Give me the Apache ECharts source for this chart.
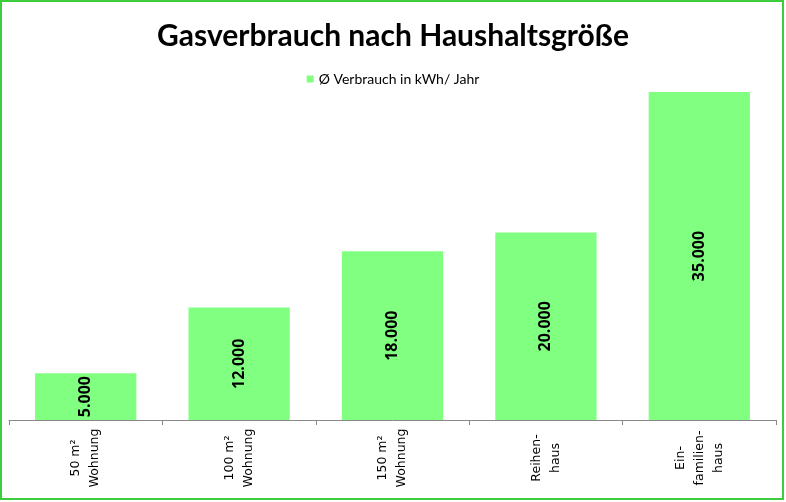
<!DOCTYPE html>
<html>
<head>
<meta charset="utf-8">
<script src="https://cdn.jsdelivr.net/npm/echarts@6/dist/echarts.min.js"></script>
<style>
html,body{margin:0;padding:0;background:#fff;}
#chart{width:786px;height:502px;}
</style>
</head>
<body>
<div id="chart"></div>
<script>
const titleText = 'Gasverbrauch nach Haushaltsgröße';
const seriesName = 'Ø Verbrauch in kWh/ Jahr';
const categories = ['50 m²\nWohnung', '100 m²\nWohnung', '150 m²\nWohnung', 'Reihen-\nhaus', 'Ein-\nfamilien-\nhaus'];
const values = [5000, 12000, 18000, 20000, 35000];

const chart = echarts.init(document.getElementById('chart'), null, {renderer: 'canvas'});
chart.setOption({
  backgroundColor: '#ffffff',
  animation: false,
  title: {
    text: titleText,
    left: 'center',
    top: 16,
    textStyle: {fontFamily: 'Lato', fontWeight: 'bold', fontSize: 30, color: '#000'}
  },
  legend: {
    data: [seriesName],
    left: 'center',
    top: 67,
    icon: 'rect',
    itemWidth: 7,
    itemHeight: 7,
    textStyle: {fontFamily: 'Lato', fontSize: 14, color: '#000'}
  },
  graphic: [{
    type: 'rect',
    shape: {x: 1, y: 1, width: 782, height: 498},
    style: {fill: 'none', stroke: '#3ccc3c', lineWidth: 2},
    silent: true,
    z: 100
  }],
  grid: {left: 9, right: 10, top: 92, bottom: 82, containLabel: false},
  xAxis: {
    type: 'category',
    data: categories,
    axisLine: {lineStyle: {color: '#888888', width: 1}},
    axisTick: {show: true, length: 5, lineStyle: {color: '#888888'}},
    axisLabel: {
      rotate: 90,
      align: 'center',
      verticalAlign: 'middle',
      margin: 38,
      interval: 0,
      fontFamily: 'DejaVu Sans',
      fontSize: 12.5,
      lineHeight: 19,
      color: '#000'
    }
  },
  yAxis: {
    type: 'value',
    min: 0,
    max: 35000,
    show: false,
    splitLine: {show: false}
  },
  series: [{
    name: seriesName,
    type: 'bar',
    data: values,
    barWidth: '66%',
    itemStyle: {color: '#80ff80'},
    label: {
      show: true,
      position: 'inside',
      rotate: 90,
      formatter: p => p.value.toLocaleString('de-DE'),
      fontFamily: 'Open Sans',
      fontWeight: 'bold',
      fontSize: 16,
      color: '#000'
    }
  }]
});
</script>
</body>
</html>
